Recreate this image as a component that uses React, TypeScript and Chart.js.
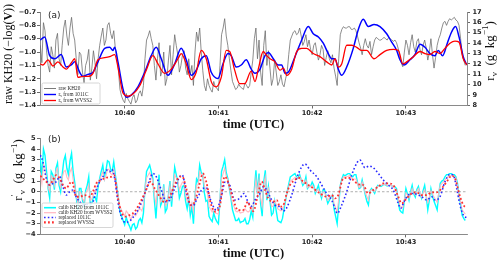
import React, { useEffect, useRef } from 'react';
import { Chart, registerables } from 'chart.js';
Chart.register(...registerables);

const W = 500;
const H = 263;

// ---------- axes ----------
const timeMin = 5.8;
const timeMax = 279.1;
const timeTickValues = [60, 120, 180, 240];
const timeTickLabels = ['10:40', '10:41', '10:42', '10:43'];
const rawTickValues = [-1.4, -1.3, -1.2, -1.1, -1.0, -0.9, -0.8, -0.7];
const rvTickValues = [8, 9, 10, 11, 12, 13, 14, 15, 16, 17];
const anomTickValues = [-4, -3, -2, -1, 0, 1, 2, 3, 4, 5];

// ---------- noisy series (seconds after 10:39:00), even seconds ----------
const tNoise = [6, 8, 10, 12, 14, 16, 18, 20, 22, 24, 26, 28, 30, 32, 34, 36, 38, 40, 42, 44, 46, 48, 50, 52, 54, 56, 58, 60, 62, 64, 66, 68, 70, 72, 74, 76, 78, 80, 82, 84, 86, 88, 90, 92, 94, 96, 98, 100, 102, 104, 106, 108, 110, 112, 114, 116, 118, 120, 122, 124, 126, 128, 130, 132, 134, 136, 138, 140, 142, 144, 146, 148, 150, 152, 154, 156, 158, 160, 162, 164, 166, 168, 170, 172, 174, 176, 178, 180, 182, 184, 186, 188, 190, 192, 194, 196, 198, 200, 202, 204, 206, 208, 210, 212, 214, 216, 218, 220, 222, 224, 226, 228, 230, 232, 234, 236, 238, 240, 242, 244, 246, 248, 250, 252, 254, 256, 258, 260, 262, 264, 266, 268, 270, 272, 274, 276, 278];

const rawKH20 = [-0.95, -0.78, -0.99, -1.15, -1.02, -0.91, -1.05, -0.95, -0.76, -0.95,
  -0.74, -0.91, -1.17, -1.02, -1.23, -1.06, -1.21, -0.99, -1.20, -0.95,
  -0.82, -0.91, -0.78, -0.90, -0.97, -1.14, -1.33, -1.38, -1.35, -1.39,
  -1.32, -1.36, -1.29, -1.25, -0.91, -0.84, -0.95, -1.21, -0.93, -1.14,
  -1.25, -1.06, -1.17, -0.87, -1.02, -1.10, -0.99, -1.17, -1.17, -1.25,
  -0.85, -0.82, -1.14, -1.29, -1.25, -1.30, -1.26, -1.29, -0.87, -0.75,
  -0.95, -1.14, -1.25, -1.27, -1.26, -1.28, -1.25, -1.25, -1.06, -0.82,
  -0.91, -1.25, -0.84, -0.99, -1.25, -1.06, -1.25, -1.17, -1.26, -1.15,
  -0.91, -0.85, -0.87, -0.82, -0.95, -0.87, -0.91, -1.02, -0.93, -1.06,
  -0.95, -1.10, -0.99, -1.08, -1.12, -1.25, -0.87, -0.81, -0.82, -0.81,
  -0.83, -0.84, -0.93, -1.02, -0.90, -0.97, -1.02, -0.91, -0.90, -0.91,
  -0.89, -0.91, -0.90, -0.92, -0.93, -1.02, -1.11, -0.91, -1.02, -0.87,
  -1.00, -0.90, -1.02, -0.91, -1.06, -0.90, -1.12, -0.95, -0.87, -0.78,
  -0.80, -0.75, -0.75, -0.76, -0.80, -1.02, -1.10];

const calib1011C = [3.2, 4.0, 1.9, -0.6, 1.6, 2.2, 0.6, 1.6, 3.4, 1.6,
  3.6, 0.9, -1.7, 0.3, -1.4, 0.6, -1.25, -0.5, -0.9, 1.25,
  2.5, 2.0, 2.8, 1.9, 1.6, -0.6, -2.3, -3.1, -2.9, -3.6,
  -3.0, -3.3, -2.5, -2.0, 1.9, 2.5, 1.25, -2.5, 1.6, -0.9,
  -1.9, -0.3, -1.4, 2.3, 0.9, -0.15, 0.6, -1.6, -2.2, -3.0,
  1.2, 2.5, 1.6, -0.9, -2.3, -2.8, -2.5, -3.0, 1.9, 3.0,
  1.25, -0.6, -2.2, -2.7, -2.9, -2.75, -3.0, -2.6, -2.4, 2.0,
  1.7, -2.3, 2.0, 0.5, -2.2, -0.9, -2.7, -2.9, -1.6, 0,
  1.4, 1.6, 1.4, 1.6, 0.6, 1.4, 0.5, 0.9, -0.15, 0.6,
  -0.6, 0.15, -1.1, -0.5, -1.6, -3.0, 0.6, 1.6, 1.6, 1.7,
  1.4, 1.6, 0.3, 1.1, -0.3, -1.25, 0.3, -0.15, 0.6, 0.5,
  0.7, 0.55, 0.6, 0.5, 0.3, -1.7, -2.0, 0.3, -0.8, 0.6,
  -0.5, 0.5, -0.6, 0.6, -1.7, 0.3, -0.9, -1.7, 0.8, 1.1,
  1.6, 1.7, 1.6, 1.4, -0.3, -2.2, -2.7];

const calibWVSS2 = [1.8, 2.6, 1.2, 0.0, 1.3, 1.9, 0.9, 1.3, 2.0, 1.1,
  2.2, 0.5, -1.1, -0.1, -0.9, 0.1, -0.8, -0.3, 0.3, 1.1,
  1.9, 1.5, 2.1, 1.6, 1.3, -0.6, -1.7, -2.3, -2.0, -2.6,
  -2.1, -2.0, -1.6, -1.2, 1.3, 1.8, 1.0, -1.2, 0.8, -0.7,
  -1.3, -0.4, -0.6, 1.6, 1.0, 0.6, 0.8, -0.9, -1.6, -1.9,
  0.6, 1.9, 1.6, 0.1, -1.4, -1.9, -2.0, -2.1, 1.2, 2.2,
  1.1, -0.4, -1.4, -1.9, -2.0, -1.9, -1.8, -1.8, -1.9, 1.2,
  1.1, -1.4, 1.4, 0.3, -1.4, -0.8, -1.6, -1.8, -1.3, -0.1,
  1.0, 1.2, 1.3, 1.4, 0.8, 1.1, 0.5, 0.6, 0.0, 0.2,
  -0.4, -0.1, -0.8, -0.4, -1.1, -1.9, 0.5, 1.4, 1.4, 1.5,
  1.2, 1.2, 0.4, 0.9, -0.1, -0.8, 0.2, 0.0, 0.5, 0.6,
  0.7, 0.6, 0.6, 0.5, 0.1, -1.3, -1.5, -0.1, -0.6, 0.3,
  -0.3, 0.3, -0.5, 0.2, -1.0, 0.1, -0.5, -1.0, 0.6, 0.9,
  1.3, 1.5, 1.5, 1.3, -0.3, -1.7, -2.1];

// ---------- noisy series, odd seconds ----------
const tNoiseOdd = [7, 9, 11, 13, 15, 17, 19, 21, 23, 25, 27, 29, 31, 33, 35, 37, 39, 41, 43, 45, 47, 49, 51, 53, 55, 57, 59, 61, 63, 65, 67, 69, 71, 73, 75, 77, 79, 81, 83, 85, 87, 89, 91, 93, 95, 97, 99, 101, 103, 105, 107, 109, 111, 113, 115, 117, 119, 121, 123, 125, 127, 129, 131, 133, 135, 137, 139, 141, 143, 145, 147, 149, 151, 153, 155, 157, 159, 161, 163, 165, 167, 169, 171, 173, 175, 177, 179, 181, 183, 185, 187, 189, 191, 193, 195, 197, 199, 201, 203, 205, 207, 209, 211, 213, 215, 217, 219, 221, 223, 225, 227, 229, 231, 233, 235, 237, 239, 241, 243, 245, 247, 249, 251, 253, 255, 257, 259, 261, 263, 265, 267, 269, 271, 273, 275, 277];

const rawKH20Odd = [-1.08, -0.84, -1.10, -0.96, -1.12, -0.86, -1.10, -0.82, -0.88, -0.82,
  -0.86, -1.05, -1.00, -1.15, -1.10, -0.98, -1.12, -1.08, -1.05, -0.88,
  -0.95, -0.80, -0.86, -0.84, -1.05, -1.28, -1.36, -1.31, -1.37, -1.34,
  -1.38, -1.31, -1.33, -1.05, -0.88, -0.90, -1.10, -1.05, -1.18, -1.00,
  -1.20, -0.95, -1.02, -0.95, -1.15, -1.02, -1.12, -1.05, -1.10, -1.00,
  -0.92, -1.00, -1.25, -1.20, -1.28, -1.22, -1.27, -1.10, -0.82, -0.88,
  -1.05, -1.22, -1.28, -1.24, -1.27, -1.23, -1.27, -1.15, -0.90, -1.05,
  -1.15, -0.95, -1.10, -1.12, -1.20, -1.15, -1.22, -1.24, -1.20, -1.02,
  -0.88, -0.84, -0.86, -0.88, -0.92, -0.96, -0.98, -0.95, -1.00, -1.02,
  -0.98, -1.04, -1.05, -1.02, -1.18, -1.05, -0.83, -0.82, -0.81, -0.83,
  -0.82, -0.88, -0.97, -0.95, -0.95, -0.92, -0.96, -0.89, -0.91, -0.90,
  -0.90, -0.89, -0.91, -0.91, -0.97, -1.08, -1.00, -0.95, -0.93, -0.96,
  -0.92, -0.98, -0.95, -0.97, -1.00, -1.02, -1.04, -0.90, -0.82, -0.77,
  -0.77, -0.76, -0.74, -0.77, -0.90, -1.06];

const calib1011COdd = [1.2, 3.4, 0.3, 1.9, 0.2, 2.7, 0.0, 2.9, 2.2, 2.9,
  1.9, -0.5, 0.3, -0.8, 0.1, 1.4, -1.1, -0.5, 0.5, 1.9,
  1.3, 2.9, 2.1, 2.8, 0.5, -1.9, -2.7, -2.4, -3.2, -3.1,
  -3.5, -2.7, -2.9, 0.3, 2.2, 1.9, -0.8, -0.2, -1.3, 0.7,
  -1.6, 1.0, 0.45, 1.6, -0.6, 0.5, -0.9, -0.6, -1.4, -0.4,
  0.9, 1.8, -0.1, -0.8, -2.6, -2.0, -2.8, -0.8, 2.4, 1.8,
  0.3, -1.7, -2.7, -2.5, -2.8, -2.5, -3.0, -1.8, 0.2, -0.2,
  -1.1, 0.9, -0.8, -0.85, -2.0, -1.8, -2.8, -2.5, -0.8, 0.7,
  1.5, 1.7, 1.3, 1.1, 0.8, 0.3, 0.5, 0.6, 0.2, -0.1,
  0.2, -0.5, -0.8, -0.3, -2.3, -1.2, 1.2, 1.5, 1.7, 1.5,
  1.6, 0.9, 0.4, 0.4, -0.9, 0.1, 0.1, 0.3, 0.55, 0.6,
  0.65, 0.6, 0.55, 0.45, -0.8, -1.9, -0.9, -0.2, 0.0, -0.2,
  0.2, -0.2, 0.1, -0.4, -0.8, -0.4, -1.3, -0.2, 1.0, 1.4,
  1.6, 1.7, 1.6, 0.8, -1.2, -2.5];

const calibWVSS2Odd = [0.8, 2.2, 0.4, 1.5, 0.6, 2.2, 0.4, 1.9, 1.35, 1.85,
  1.15, -0.35, 0.0, -0.65, -0.1, 0.65, -0.65, 0.1, 0.9, 1.5,
  1.1, 2.1, 1.7, 2.1, 0.35, -1.4, -2.0, -1.8, -2.3, -2.2,
  -2.25, -1.7, -1.8, 0.25, 1.55, 1.4, -0.2, -0.05, -0.95, 0.3,
  -1.15, 0.6, 0.5, 1.3, 0.2, 0.9, -0.3, -0.45, -1.05, -0.35,
  0.65, 1.6, 0.6, -0.15, -1.65, -1.55, -2.05, -0.6, 1.7, 1.45,
  0.35, -1.1, -1.8, -1.75, -1.95, -1.6, -1.9, -1.4, -0.1, -0.05,
  -0.6, 0.6, -0.35, -0.55, -1.35, -1.2, -1.7, -1.7, -0.7, 0.45,
  1.1, 1.35, 1.25, 1.1, 0.85, 0.4, 0.45, 0.4, 0.1, -0.15,
  0.0, -0.45, -0.6, -0.3, -1.5, -0.7, 1.0, 1.4, 1.45, 1.35,
  1.2, 0.8, 0.45, 0.4, -0.45, 0.05, 0.1, 0.3, 0.55, 0.65,
  0.65, 0.6, 0.55, 0.3, -0.55, -1.4, -0.75, -0.3, -0.15, -0.05,
  0.05, -0.1, -0.1, -0.4, -0.5, -0.2, -0.75, -0.15, 0.75, 1.1,
  1.4, 1.5, 1.4, 0.5, -1.0, -1.9];

// ---------- smooth series, panel (a), r_v in g/kg ----------
const t1011C = [6, 8.8, 12, 15.2, 19.4, 22.6, 25.8, 28, 31.2, 33.3, 36.5, 39.7, 42.9, 47.2, 50.4, 52.5, 53.6, 55.7, 58.9, 61, 64.2, 68.5, 72.8, 77, 80.2, 83.4, 87.7, 92, 96.2, 99.4, 102.6, 105.8, 109, 112.2, 115.4, 119.7, 122.9, 126.1, 128.2, 131.4, 134.6, 137.8, 141, 143.4, 146.6, 149.8, 151.9, 155.1, 158.3, 160.5, 162.6, 164.7, 169, 173.3, 177.5, 180.7, 184, 187.1, 190.3, 192.5, 194.6, 196.7, 198.9, 202.1, 206.3, 209.5, 212.7, 215.9, 219.6, 223.4, 227.7, 230.9, 234.1, 236.2, 238.8, 242.6, 245.8, 249, 252.2, 255.4, 258.6, 260.7, 263.5, 266.5, 269.3, 271.8, 274, 276.7, 279];
const rv1011C = [14.3, 14.6, 12.8, 12.5, 12.9, 11.7, 11.9, 12.2, 11.2, 10.8, 11.0, 11.2, 12.2, 13.5, 13.6, 13.3, 13.6, 12.2, 9.6, 8.8, 9.0, 9.8, 11.2, 12.8, 13.6, 12.5, 10.9, 12.0, 13.5, 12.4, 10.9, 11.4, 12.5, 12.8, 11.2, 10.6, 12.0, 13.0, 12.8, 11.7, 11.9, 12.4, 11.5, 11.1, 11.5, 12.8, 13.1, 12.5, 11.9, 11.9, 11.1, 11.2, 12.7, 14.3, 15.6, 14.9, 14.6, 14.0, 13.0, 12.5, 12.5, 11.5, 10.9, 11.7, 13.5, 15.3, 16.3, 15.6, 15.8, 15.6, 14.9, 14.1, 13.3, 12.4, 11.9, 12.4, 12.9, 13.9, 13.6, 13.0, 12.8, 13.3, 12.8, 14.0, 15.1, 15.6, 14.6, 12.7, 11.9];

const tWVSS2 = [6, 7.7, 10.9, 14.1, 17.3, 20.5, 22.6, 25.8, 28, 30.1, 33.3, 36.5, 39.7, 42.9, 47.2, 50.4, 53.6, 55.7, 58.9, 62.1, 65.3, 69.6, 73.8, 78.1, 81.3, 85.6, 89.8, 94.1, 96.2, 99.4, 102.6, 105.8, 109, 112.2, 115.4, 118.6, 121.8, 125, 127.2, 130.4, 133.6, 136.8, 141, 143.4, 145.5, 148.7, 150.9, 153, 156.2, 159.4, 161.6, 163.7, 166.9, 170.1, 173.3, 176.5, 180.7, 185, 189.3, 192.5, 194.6, 196.7, 198.9, 202.1, 205.3, 208.5, 211.7, 214.9, 219.6, 223.4, 227.7, 232, 235.2, 238, 240.5, 244.8, 249, 252.2, 255.4, 258.6, 261.8, 265, 268.2, 271.4, 274, 276.7, 279];
const rvWVSS2 = [12.0, 11.9, 12.4, 11.8, 12.2, 11.7, 11.5, 12.1, 12.5, 10.7, 10.8, 10.8, 11.1, 12.4, 12.6, 12.7, 12.9, 11.7, 9.2, 8.9, 9.1, 9.9, 11.4, 12.8, 12.0, 11.1, 11.5, 12.5, 13.0, 12.0, 10.5, 11.2, 13.3, 12.5, 10.3, 9.8, 10.7, 13.3, 13.2, 11.4, 10.1, 10.1, 11.3, 10.3, 11.5, 13.2, 12.8, 12.5, 12.2, 11.4, 11.6, 10.9, 11.5, 13.2, 13.5, 13.5, 13.0, 12.7, 12.2, 11.9, 12.5, 11.7, 12.0, 13.8, 13.8, 13.6, 13.3, 13.3, 12.5, 12.9, 13.3, 13.4, 13.3, 12.0, 12.2, 12.7, 13.2, 13.0, 12.9, 13.2, 13.0, 13.5, 14.0, 14.2, 14.1, 12.5, 11.9];

// ---------- replaced series, panel (b), r'_v ----------
const tRep1011C = [6, 7.7, 9.8, 12, 14.1, 16.2, 18.4, 20.5, 22.6, 24.8, 26.9, 29, 31.2, 34.4, 37.6, 39.7, 41.8, 44, 46.1, 48.2, 50.4, 51.9, 53.6, 55.7, 57.8, 60.4, 63.2, 66.4, 69.6, 72.8, 76, 78.1, 80.2, 83.4, 86.6, 88.8, 92, 95.2, 96.9, 99.4, 101.6, 103.7, 106.9, 110.1, 112.2, 115.4, 118.6, 121.8, 124.4, 127.2, 130.4, 133.6, 136.4, 138.9, 141.2, 143.4, 146.6, 148.7, 150.9, 153, 156.2, 159.4, 161.5, 163.7, 166.9, 170.1, 173.3, 175.4, 178.6, 182.9, 186.1, 189.3, 192.5, 194.6, 196.1, 198.9, 202.1, 205.3, 208.5, 210.6, 213.8, 216.5, 219.6, 222.3, 225.5, 228.7, 231.9, 235.1, 236.6, 238.8, 241.5, 244.7, 247.9, 250.1, 253.3, 256.5, 258.6, 261.8, 265, 268.2, 270.3, 272.5, 274.6, 276.7, 279];
const rep1011C = [3.44, 2.8, 1.25, 0.63, 0.78, 0.94, 1.41, 0.47, -0.31, 0, 0.16, -0.47, -0.94, -1.25, -1.09, -0.94, 0.16, 0.94, 1.41, 2.03, 1.88, 2.1, 1.25, -0.94, -2.34, -2.87, -2.75, -2.18, -1.41, -0.16, 1.1, 1.72, 1.41, 0.16, -0.94, -0.78, 0.31, 1.41, 1.56, 0, -1.09, -1.31, -0.47, 0.31, 0.37, -0.94, -1.72, -0.47, 0.94, 0.63, -0.78, -0.62, -0.16, -0.94, -1.35, -0.78, -0.16, 0.47, 0.16, -0.47, -1.25, -1.41, -1.81, -1.5, -0.31, 1.25, 2.34, 2.6, 2.03, 1.41, 0.63, -0.16, -0.78, -1.56, -2.03, -1.25, 0, 1.56, 2.66, 2.97, 2.25, 2.41, 2.19, 1.72, 1.1, 0.63, 0.16, -1.09, -1.56, -0.94, -0.31, -0.16, -0.31, -0.47, -0.78, -0.47, -0.78, -0.47, 0.94, 1.63, 1.56, 0.31, -1.25, -2.18, -2.44];

const tRepWVSS2 = [6, 9.8, 12, 14.1, 16.2, 18.4, 20.5, 22.6, 24.8, 26.3, 29, 31.2, 34.4, 37.6, 39.7, 41.8, 45, 48.2, 51.5, 53.2, 55.7, 57.8, 60.4, 63.2, 66.4, 69.6, 72.8, 76.6, 79.2, 82.4, 85.2, 88.2, 92, 95.2, 96.9, 99.4, 102.2, 104.8, 108, 110.1, 112.2, 115.4, 117.6, 120.8, 124, 126.1, 129.3, 132.5, 135.7, 138.9, 140.2, 142.3, 145.5, 147.7, 149.8, 151.9, 155.1, 157.3, 159.4, 161.6, 163.7, 165.8, 169, 171.2, 174.4, 177.6, 180.8, 185, 189.3, 192.5, 194.6, 196.7, 199.9, 203.1, 206.3, 209.5, 212.7, 215.9, 219.1, 222.3, 225.5, 228.7, 231.9, 235.1, 237.3, 240.5, 243.7, 246.9, 250.1, 253.3, 256.5, 259.7, 262.9, 266.1, 269.3, 271.4, 274.7, 276.8, 279];
const repWVSS2 = [1.5, 0.94, 0.63, 1.1, 1.56, 1.25, 0.63, 0.31, 0.78, 0.94, -0.47, -0.47, -0.31, -0.47, 0, 0.78, 1.1, 1.31, 1.41, 1.56, -0.62, -1.87, -2.34, -2.18, -1.87, -1.09, -0.16, 0.94, 0.31, -0.47, -0.94, -0.62, 0.63, 1.41, 1.41, 0.31, -1.25, -0.94, 0.78, 1.72, 0.94, -1.25, -1.87, -1.41, 1.41, 0.94, -0.62, -1.72, -1.72, -0.94, -1.41, -1.81, -0.16, 0.94, 0.16, -0.62, -0.94, -0.78, -1.41, -1.25, -0.16, 0.63, 1.1, 1.31, 0.94, 0.63, 0.31, -0.16, -0.47, -0.31, -0.62, -0.31, 1.25, 1.31, 1.1, 0.69, 0.63, -0.16, 0.16, 0.47, 0.78, 0.78, 0.63, -0.47, -1.09, -0.62, -0.16, -0.06, -0.31, -0.31, -0.06, -0.06, 0.31, 0.94, 1.5, 1.25, -0.47, -1.25, -1.5];

const zeroLineX = [timeMin, timeMax];
const zeroLineY = [0, 0];

// ---------- helpers ----------
const pts = (xs: number[], ys: number[]) => xs.map((x, i) => ({ x, y: ys[i] }));
const merged = (xa: number[], ya: number[], xb: number[], yb: number[]) =>
  [...pts(xa, ya), ...pts(xb, yb)].sort((p, q) => p.x - q.x);
const minus = (v: number, d: number) => (v < 0 ? '\u2212' : '') + Math.abs(v).toFixed(d);

type Seg = { t: string; sub?: boolean; sup?: boolean; bold?: boolean };

function richWidth(ctx: CanvasRenderingContext2D, segs: Seg[], size: number, family: string, bold: boolean) {
  let w = 0;
  for (const s of segs) {
    const sz = s.sub || s.sup ? size * 0.7 : size;
    ctx.font = `${bold || s.bold ? 'bold ' : ''}${sz}px ${family}`;
    w += ctx.measureText(s.t).width;
  }
  return w;
}

function drawRich(ctx: CanvasRenderingContext2D, segs: Seg[], cx: number, cy: number, rot: number, size: number, family: string, opts: { bold?: boolean; align?: 'center' | 'left'; color?: string } = {}) {
  ctx.save();
  ctx.translate(cx, cy);
  ctx.rotate(rot);
  ctx.fillStyle = opts.color || '#111';
  ctx.textBaseline = 'alphabetic';
  ctx.textAlign = 'left';
  const total = richWidth(ctx, segs, size, family, !!opts.bold);
  let x = opts.align === 'left' ? 0 : -total / 2;
  const base = size * 0.33;
  for (const s of segs) {
    const sz = s.sub || s.sup ? size * 0.7 : size;
    ctx.font = `${opts.bold || s.bold ? 'bold ' : ''}${sz}px ${family}`;
    const dy = s.sub ? size * 0.22 : s.sup ? -size * 0.42 : 0;
    ctx.fillText(s.t, x, base + dy);
    x += ctx.measureText(s.t).width;
  }
  ctx.restore();
}

type LegendRow = { segs: Seg[]; color: string; width: number; dash: number[] };

function drawLegend(ctx: CanvasRenderingContext2D, box: { x: number; y: number; w: number; h: number }, rows: LegendRow[], rowY: number[]) {
  ctx.save();
  ctx.fillStyle = 'rgba(255,255,255,0.85)';
  ctx.strokeStyle = '#cccccc';
  ctx.lineWidth = 0.8;
  ctx.beginPath();
  const r = 1.5;
  const { x, y, w, h } = box;
  ctx.moveTo(x + r, y);
  ctx.lineTo(x + w - r, y);
  ctx.quadraticCurveTo(x + w, y, x + w, y + r);
  ctx.lineTo(x + w, y + h - r);
  ctx.quadraticCurveTo(x + w, y + h, x + w - r, y + h);
  ctx.lineTo(x + r, y + h);
  ctx.quadraticCurveTo(x, y + h, x, y + h - r);
  ctx.lineTo(x, y + r);
  ctx.quadraticCurveTo(x, y, x + r, y);
  ctx.closePath();
  ctx.fill();
  ctx.stroke();
  rows.forEach((row, i) => {
    const yy = rowY[i];
    ctx.strokeStyle = row.color;
    ctx.lineWidth = row.width;
    ctx.setLineDash(row.dash);
    ctx.beginPath();
    ctx.moveTo(x + 2, yy);
    ctx.lineTo(x + 14, yy);
    ctx.stroke();
    ctx.setLineDash([]);
    drawRich(ctx, row.segs, x + 16.5, yy - 0.2, 0, 5.2, "'Liberation Serif', serif", { align: 'left', color: '#222' });
  });
  ctx.restore();
}

const serif = "'Liberation Serif', 'DejaVu Serif', serif";
const tickFont = { family: "'DejaVu Sans', sans-serif", weight: 'bold' as const, size: 6.6 };

const xScale = (height: number) => ({
  type: 'linear' as const,
  min: timeMin,
  max: timeMax,
  afterBuildTicks: (s: any) => { s.ticks = timeTickValues.map((v) => ({ value: v })); },
  ticks: {
    callback: (v: any) => timeTickLabels[timeTickValues.indexOf(Number(v))] ?? '',
    font: tickFont, color: '#222', padding: 1, maxRotation: 0, autoSkip: false,
  },
  grid: { drawOnChartArea: false, drawTicks: true, tickLength: 3, color: '#444', lineWidth: 0.8 },
  border: { display: true, color: '#8a8a8a', width: 1 },
  afterFit: (s: any) => { s.height = height; },
});

const yScale = (position: 'left' | 'right', min: number, max: number, values: number[], dec: number, width: number, pad: number) => ({
  type: 'linear' as const,
  position,
  min, max,
  afterBuildTicks: (s: any) => { s.ticks = values.map((v) => ({ value: v })); },
  ticks: { callback: (v: any) => minus(Number(v), dec), font: tickFont, color: '#222', padding: pad, autoSkip: false },
  grid: { drawOnChartArea: false, drawTicks: true, tickLength: 3, color: '#444', lineWidth: 0.8 },
  border: { display: true, color: '#8a8a8a', width: 1 },
  afterFit: (s: any) => { s.width = width; },
});

const legendRowsA: LegendRow[] = [
  { segs: [{ t: 'raw KH20' }], color: '#7a7a7a', width: 1, dash: [] },
  { segs: [{ t: 'r' }, { t: 'v', sub: true }, { t: ' from 1011C' }], color: '#0000ff', width: 1.4, dash: [] },
  { segs: [{ t: 'r' }, { t: 'v', sub: true }, { t: ' from WVSS2' }], color: '#ff0000', width: 1.3, dash: [] },
];
const legendRowsB: LegendRow[] = [
  { segs: [{ t: 'calib KH20 from 1011C' }], color: '#00ffff', width: 1.6, dash: [] },
  { segs: [{ t: 'calib KH20 from WVSS2' }], color: '#ffb6c1', width: 1.2, dash: [] },
  { segs: [{ t: 'replaced 1011C' }], color: '#2b2bff', width: 1.6, dash: [1.6, 2.2] },
  { segs: [{ t: 'replaced WVSS2' }], color: '#ff3030', width: 2.2, dash: [1.8, 2.2] },
];

const decorA = {
  id: 'decorA',
  afterDraw(chart: any) {
    const ctx = chart.ctx as CanvasRenderingContext2D;
    const ca = chart.chartArea;
    ctx.save();
    ctx.font = "9px 'DejaVu Sans', sans-serif";
    ctx.fillStyle = '#222';
    ctx.textBaseline = 'middle';
    ctx.fillText('(a)', ca.left + 8, ca.top + 4);
    ctx.restore();
    drawLegend(ctx, { x: 42, y: 83, w: 58, h: 21 }, legendRowsA, [88.5, 94.5, 100.5]);
    drawRich(ctx, [{ t: 'time (UTC)' }], (ca.left + ca.right) / 2, 124, 0, 12.5, serif, { bold: true });
    drawRich(ctx, [{ t: 'raw KH20 ' }, { t: '(\u2212log(' }, { t: 'V', bold: true }, { t: '))' }], 8.5, 54, -Math.PI / 2, 12, serif);
    drawRich(ctx, [{ t: 'r' }, { t: 'v', sub: true }, { t: '  (g  kg' }, { t: '\u22121', sup: true }, { t: ')' }], 489.5, 51, -Math.PI / 2, 13, serif);
  },
};

const decorB = {
  id: 'decorB',
  afterDraw(chart: any) {
    const ctx = chart.ctx as CanvasRenderingContext2D;
    const ca = chart.chartArea;
    ctx.save();
    ctx.font = "9px 'DejaVu Sans', sans-serif";
    ctx.fillStyle = '#222';
    ctx.textBaseline = 'middle';
    ctx.fillText('(b)', ca.left + 8, ca.top + 1);
    ctx.restore();
    drawLegend(ctx, { x: 42, y: 203, w: 71, h: 24.5 }, legendRowsB, [207.7, 212.7, 217.5, 222.3]);
    drawRich(ctx, [{ t: 'time (UTC)' }], (ca.left + ca.right) / 2, 252.5, 0, 12.5, serif, { bold: true });
    drawRich(ctx, [{ t: 'r' }, { t: '\u2032', sup: true }, { t: 'v', sub: true }, { t: '  (g  kg' }, { t: '\u22121', sup: true }, { t: ')' }], 18, 170, -Math.PI / 2, 13, serif);
  },
};

export default function App() {
  const refA = useRef<HTMLCanvasElement>(null);
  const refB = useRef<HTMLCanvasElement>(null);

  useEffect(() => {
    const common = {
      animation: false as const,
      responsive: false,
      devicePixelRatio: 1,
      events: [] as any[],
      plugins: { legend: { display: false }, tooltip: { enabled: false } },
    };

    const chartA = new Chart(refA.current!, {
      type: 'line',
      data: {
        datasets: [
          { data: merged(tNoise, rawKH20, tNoiseOdd, rawKH20Odd), yAxisID: 'yL', borderColor: 'rgba(105,105,105,0.85)', borderWidth: 0.9, pointRadius: 0, tension: 0, order: 3 },
          { data: pts(t1011C, rv1011C), yAxisID: 'yR', borderColor: '#0000ff', borderWidth: 1.5, pointRadius: 0, cubicInterpolationMode: 'monotone', order: 2 },
          { data: pts(tWVSS2, rvWVSS2), yAxisID: 'yR', borderColor: '#ff0000', borderWidth: 1.3, pointRadius: 0, cubicInterpolationMode: 'monotone', order: 1 },
        ],
      },
      options: {
        ...common,
        layout: { padding: { top: 12, left: 0, right: 0, bottom: 0 } },
        scales: {
          x: xScale(H - 105.5),
          yL: yScale('left', -1.4, -0.7, rawTickValues, 1, 40, 1),
          yR: yScale('right', 8, 17, rvTickValues, 0, 33, 2.5),
        },
      } as any,
      plugins: [decorA],
    });

    const chartB = new Chart(refB.current!, {
      type: 'line',
      data: {
        datasets: [
          { data: pts(zeroLineX, zeroLineY), borderColor: '#9a9a9a', borderWidth: 0.8, borderDash: [2.5, 2], pointRadius: 0, order: 6 },
          { data: merged(tNoise, calib1011C, tNoiseOdd, calib1011COdd), borderColor: '#00ffff', borderWidth: 1.4, pointRadius: 0, tension: 0, order: 5 },
          { data: merged(tNoise, calibWVSS2, tNoiseOdd, calibWVSS2Odd), borderColor: 'rgba(255,182,193,0.95)', borderWidth: 1.1, pointRadius: 0, tension: 0, order: 4 },
          { data: pts(tRep1011C, rep1011C), borderColor: '#2b2bff', borderWidth: 1.6, borderDash: [1.6, 2.2], pointRadius: 0, cubicInterpolationMode: 'monotone', order: 3 },
          { data: pts(tRepWVSS2, repWVSS2), borderColor: '#ff3030', borderWidth: 1.8, borderDash: [1.8, 2.2], pointRadius: 0, cubicInterpolationMode: 'monotone', order: 2 },
        ],
      },
      options: {
        ...common,
        layout: { padding: { top: 138.4, left: 0, right: 33, bottom: 0 } },
        scales: {
          x: xScale(H - 234.4),
          y: yScale('left', -4, 5, anomTickValues, 0, 40, 1.5),
        },
      } as any,
      plugins: [decorB],
    });

    return () => { chartA.destroy(); chartB.destroy(); };
  }, []);

  return (
    <div style={{ position: 'fixed', left: 0, top: 0, width: W, height: H, background: '#ffffff', overflow: 'hidden' }}>
      <canvas ref={refA} width={W} height={H} style={{ position: 'absolute', left: 0, top: 0, width: W, height: H }} />
      <canvas ref={refB} width={W} height={H} style={{ position: 'absolute', left: 0, top: 0, width: W, height: H }} />
    </div>
  );
}
